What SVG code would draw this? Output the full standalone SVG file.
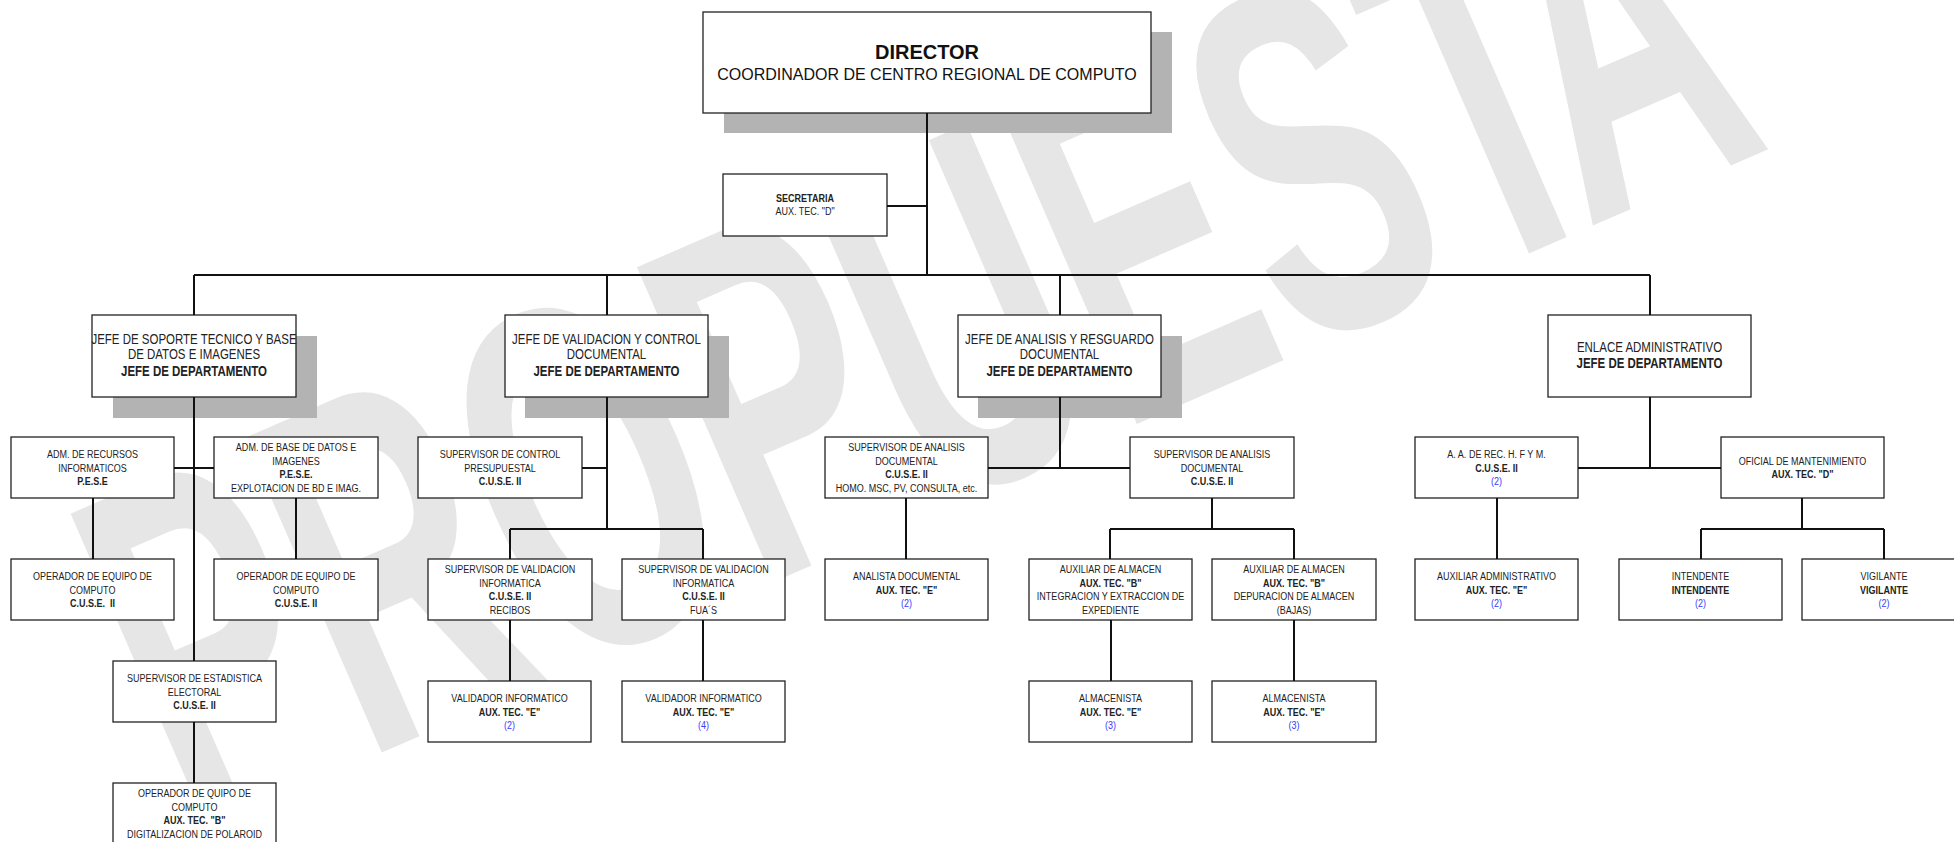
<svg xmlns="http://www.w3.org/2000/svg" width="1954" height="842" viewBox="0 0 1954 842">
<style>
.bg{fill:#fff}
.wm{font-family:"Liberation Sans",Arial,sans-serif;font-weight:bold;font-size:285px;fill:#e6e6e6}
.sh{fill:#b3b3b3}
.box{fill:#fff;stroke:#222;stroke-width:1.3}
.t{font-family:"Liberation Sans Narrow","Liberation Sans",Arial,sans-serif;font-size:11px;fill:#222;text-anchor:middle;white-space:pre;transform-box:fill-box;transform-origin:50% 50%;transform:scaleX(0.82)}
.j{font-size:14px}
.d{font-family:"Liberation Sans",Arial,sans-serif;fill:#111;text-anchor:middle}
.b{font-weight:bold}
.n{fill:#3a3aff}
.ln{stroke:#111;stroke-width:2;fill:none}
</style>
<rect class="bg" x="0" y="0" width="1954" height="842"/>
<text class="wm" transform="matrix(0.917 -0.399 0.698 1.605 190 836)" x="0" y="0">PROPUEST<tspan dx="-45">A</tspan></text>

<g id="director">
<rect class="sh" x="724" y="32" width="448" height="101"/>
<rect class="box" x="703" y="12" width="448" height="101"/>
<text class="d b" x="927" y="59" font-size="20">DIRECTOR</text>
<text class="d" x="927" y="80" font-size="16">COORDINADOR DE CENTRO REGIONAL DE COMPUTO</text>
</g>
<g id="secretaria">
<rect class="box" x="723" y="174" width="164" height="62"/>
<text class="t b" x="805" y="202">SECRETARIA</text>
<text class="t" x="805" y="215">AUX. TEC. "D"</text>
</g>

<g id="jefe-soporte">
<rect class="sh" x="113" y="336" width="204" height="82"/>
<rect class="box" x="92" y="315" width="204" height="82"/>
<text class="t j" x="194" y="344">JEFE DE SOPORTE TECNICO Y BASE</text>
<text class="t j" x="194" y="359.5">DE DATOS E IMAGENES</text>
<text class="t j b" x="194" y="376">JEFE DE DEPARTAMENTO</text>
</g>
<g id="jefe-validacion">
<rect class="sh" x="525" y="336" width="204" height="82"/>
<rect class="box" x="505" y="315" width="203" height="82"/>
<text class="t j" x="606.5" y="344">JEFE DE VALIDACION Y CONTROL</text>
<text class="t j" x="606.5" y="359.5">DOCUMENTAL</text>
<text class="t j b" x="606.5" y="376">JEFE DE DEPARTAMENTO</text>
</g>
<g id="jefe-analisis">
<rect class="sh" x="978" y="336" width="204" height="82"/>
<rect class="box" x="958" y="315" width="203" height="82"/>
<text class="t j" x="1059.5" y="344">JEFE DE ANALISIS Y RESGUARDO</text>
<text class="t j" x="1059.5" y="359.5">DOCUMENTAL</text>
<text class="t j b" x="1059.5" y="376">JEFE DE DEPARTAMENTO</text>
</g>
<g id="enlace">
<rect class="box" x="1548" y="315" width="203" height="82"/>
<text class="t j" x="1649.5" y="352">ENLACE ADMINISTRATIVO</text>
<text class="t j b" x="1649.5" y="368">JEFE DE DEPARTAMENTO</text>
</g>

<g id="adm-recursos">
<rect class="box" x="11" y="437" width="163" height="61"/>
<text class="t" x="92.5" y="458.25">ADM. DE RECURSOS</text>
<text class="t" x="92.5" y="471.75">INFORMATICOS</text>
<text class="t b" x="92.5" y="485.25">P.E.S.E</text>
</g>
<g id="adm-bd">
<rect class="box" x="214" y="437" width="164" height="61"/>
<text class="t" x="296" y="451.25">ADM. DE BASE DE DATOS E</text>
<text class="t" x="296" y="464.75">IMAGENES</text>
<text class="t b" x="296" y="478.25">P.E.S.E.</text>
<text class="t" x="296" y="491.75">EXPLOTACION DE BD E IMAG.</text>
</g>
<g id="sup-control">
<rect class="box" x="418" y="437" width="164" height="61"/>
<text class="t" x="500" y="458.25">SUPERVISOR DE CONTROL</text>
<text class="t" x="500" y="471.75">PRESUPUESTAL</text>
<text class="t b" x="500" y="485.25">C.U.S.E. II</text>
</g>
<g id="sup-analisis-1">
<rect class="box" x="825" y="437" width="163" height="61"/>
<text class="t" x="906.5" y="451.25">SUPERVISOR DE ANALISIS</text>
<text class="t" x="906.5" y="464.75">DOCUMENTAL</text>
<text class="t b" x="906.5" y="478.25">C.U.S.E. II</text>
<text class="t" x="906.5" y="491.75">HOMO. MSC, PV, CONSULTA, etc.</text>
</g>
<g id="sup-analisis-2">
<rect class="box" x="1130" y="437" width="164" height="61"/>
<text class="t" x="1212" y="458.25">SUPERVISOR DE ANALISIS</text>
<text class="t" x="1212" y="471.75">DOCUMENTAL</text>
<text class="t b" x="1212" y="485.25">C.U.S.E. II</text>
</g>
<g id="aa-rec">
<rect class="box" x="1415" y="437" width="163" height="61"/>
<text class="t" x="1496.5" y="458.25">A. A. DE REC. H. F Y M.</text>
<text class="t b" x="1496.5" y="471.75">C.U.S.E. II</text>
<text class="t n" x="1496.5" y="485.25">(2)</text>
</g>
<g id="oficial">
<rect class="box" x="1721" y="437" width="163" height="61"/>
<text class="t" x="1802.5" y="464.75">OFICIAL DE MANTENIMIENTO</text>
<text class="t b" x="1802.5" y="478.25">AUX. TEC. "D"</text>
</g>

<g id="operador-1">
<rect class="box" x="11" y="559" width="163" height="61"/>
<text class="t" x="92.5" y="580.25">OPERADOR DE EQUIPO DE</text>
<text class="t" x="92.5" y="593.75">COMPUTO</text>
<text class="t b" x="92.5" y="607.25">C.U.S.E.  II</text>
</g>
<g id="operador-2">
<rect class="box" x="214" y="559" width="164" height="61"/>
<text class="t" x="296" y="580.25">OPERADOR DE EQUIPO DE</text>
<text class="t" x="296" y="593.75">COMPUTO</text>
<text class="t b" x="296" y="607.25">C.U.S.E. II</text>
</g>
<g id="sup-val-recibos">
<rect class="box" x="428" y="559" width="164" height="61"/>
<text class="t" x="510" y="573.25">SUPERVISOR DE VALIDACION</text>
<text class="t" x="510" y="586.75">INFORMATICA</text>
<text class="t b" x="510" y="600.25">C.U.S.E. II</text>
<text class="t" x="510" y="613.75">RECIBOS</text>
</g>
<g id="sup-val-fuas">
<rect class="box" x="622" y="559" width="163" height="61"/>
<text class="t" x="703.5" y="573.25">SUPERVISOR DE VALIDACION</text>
<text class="t" x="703.5" y="586.75">INFORMATICA</text>
<text class="t b" x="703.5" y="600.25">C.U.S.E. II</text>
<text class="t" x="703.5" y="613.75">FUA´S</text>
</g>
<g id="analista">
<rect class="box" x="825" y="559" width="163" height="61"/>
<text class="t" x="906.5" y="580.25">ANALISTA DOCUMENTAL</text>
<text class="t b" x="906.5" y="593.75">AUX. TEC. "E"</text>
<text class="t n" x="906.5" y="607.25">(2)</text>
</g>
<g id="aux-almacen-1">
<rect class="box" x="1029" y="559" width="163" height="61"/>
<text class="t" x="1110.5" y="573.25">AUXILIAR DE ALMACEN</text>
<text class="t b" x="1110.5" y="586.75">AUX. TEC. "B"</text>
<text class="t" x="1110.5" y="600.25">INTEGRACION Y EXTRACCION DE</text>
<text class="t" x="1110.5" y="613.75">EXPEDIENTE</text>
</g>
<g id="aux-almacen-2">
<rect class="box" x="1212" y="559" width="164" height="61"/>
<text class="t" x="1294" y="573.25">AUXILIAR DE ALMACEN</text>
<text class="t b" x="1294" y="586.75">AUX. TEC. "B"</text>
<text class="t" x="1294" y="600.25">DEPURACION DE ALMACEN</text>
<text class="t" x="1294" y="613.75">(BAJAS)</text>
</g>
<g id="aux-admin">
<rect class="box" x="1415" y="559" width="163" height="61"/>
<text class="t" x="1496.5" y="580.25">AUXILIAR ADMINISTRATIVO</text>
<text class="t b" x="1496.5" y="593.75">AUX. TEC. "E"</text>
<text class="t n" x="1496.5" y="607.25">(2)</text>
</g>
<g id="intendente">
<rect class="box" x="1619" y="559" width="163" height="61"/>
<text class="t" x="1700.5" y="580.25">INTENDENTE</text>
<text class="t b" x="1700.5" y="593.75">INTENDENTE</text>
<text class="t n" x="1700.5" y="607.25">(2)</text>
</g>
<g id="vigilante">
<rect class="box" x="1802" y="559" width="164" height="61"/>
<text class="t" x="1884" y="580.25">VIGILANTE</text>
<text class="t b" x="1884" y="593.75">VIGILANTE</text>
<text class="t n" x="1884" y="607.25">(2)</text>
</g>

<g id="sup-estadistica">
<rect class="box" x="113" y="661" width="163" height="61"/>
<text class="t" x="194.5" y="682.25">SUPERVISOR DE ESTADISTICA</text>
<text class="t" x="194.5" y="695.75">ELECTORAL</text>
<text class="t b" x="194.5" y="709.25">C.U.S.E. II</text>
</g>
<g id="validador-1">
<rect class="box" x="428" y="681" width="163" height="61"/>
<text class="t" x="509.5" y="702.25">VALIDADOR INFORMATICO</text>
<text class="t b" x="509.5" y="715.75">AUX. TEC. "E"</text>
<text class="t n" x="509.5" y="729.25">(2)</text>
</g>
<g id="validador-2">
<rect class="box" x="622" y="681" width="163" height="61"/>
<text class="t" x="703.5" y="702.25">VALIDADOR INFORMATICO</text>
<text class="t b" x="703.5" y="715.75">AUX. TEC. "E"</text>
<text class="t n" x="703.5" y="729.25">(4)</text>
</g>
<g id="almacenista-1">
<rect class="box" x="1029" y="681" width="163" height="61"/>
<text class="t" x="1110.5" y="702.25">ALMACENISTA</text>
<text class="t b" x="1110.5" y="715.75">AUX. TEC. "E"</text>
<text class="t n" x="1110.5" y="729.25">(3)</text>
</g>
<g id="almacenista-2">
<rect class="box" x="1212" y="681" width="164" height="61"/>
<text class="t" x="1294" y="702.25">ALMACENISTA</text>
<text class="t b" x="1294" y="715.75">AUX. TEC. "E"</text>
<text class="t n" x="1294" y="729.25">(3)</text>
</g>
<g id="operador-quipo">
<rect class="box" x="113" y="783" width="163" height="61"/>
<text class="t" x="194.5" y="797.25">OPERADOR DE QUIPO DE</text>
<text class="t" x="194.5" y="810.75">COMPUTO</text>
<text class="t b" x="194.5" y="824.25">AUX. TEC. "B"</text>
<text class="t" x="194.5" y="837.75">DIGITALIZACION DE POLAROID</text>
</g>

<g id="connectors" class="ln">
<path d="M927 113V275M887 206H927M194 275H1650"/>
<path d="M194 275V315M607 275V315M1060 275V315M1650 275V315"/>
<path d="M194 397V661M194 722V783M174 468H214M93 498V559M296 498V559"/>
<path d="M607 397V529M582 468H607M510 529H703M510 529V559M703 529V559M510 620V681M703 620V681"/>
<path d="M1060 397V468M988 468H1130M906 498V559M1212 498V529M1110 529H1294M1110 529V559M1294 529V559M1111 620V681M1294 620V681"/>
<path d="M1650 397V468M1578 468H1721M1497 498V559M1802 498V529M1701 529H1884M1701 529V559M1884 529V559"/>
</g>
</svg>
